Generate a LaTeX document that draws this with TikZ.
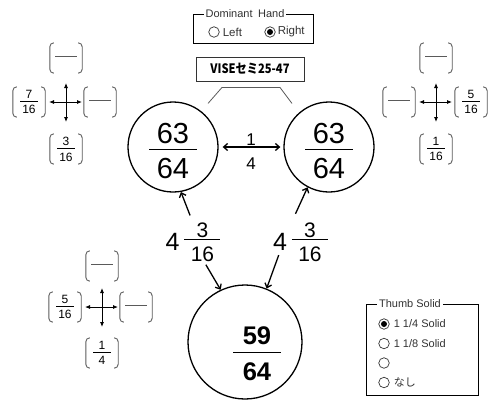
\documentclass[tikz,border=0pt]{standalone}
\usepackage{fontspec}
\setmainfont{Liberation Sans}
\newfontfamily\jpfont{Noto Sans CJK JP}
\usepackage{graphicx}
\usetikzlibrary{arrows.meta,positioning,calc}
\definecolor{brkgray}{HTML}{5A5A5A}
\definecolor{boxgray}{HTML}{333333}
\newcommand{\bigfrac}[4]{\shortstack{#1\\[#3]\rule{48pt}{.9pt}\\[#4]#2}}
\newcommand{\brkfrac}[2]{\shortstack{#1\\\rule{18pt}{.8pt}\\[.5pt]#2}}
\newcommand{\brkdash}{\textcolor{brkgray}{\rule[3.5pt]{22pt}{1pt}}}

\begin{document}
\begin{tikzpicture}[x=1pt, y=-1pt, >={Straight Barb[length=4pt,width=7pt]},
  circ/.style={circle, draw, line width=1.3pt, inner sep=0pt},
  bignum/.style={inner sep=0pt, font=\fontsize{29}{34}\selectfont},
  mixnum/.style={inner sep=0pt, font=\fontsize{25}{30}\selectfont},
  brk/.style={minimum width=32pt, minimum height=30pt, inner sep=0pt, font=\fontsize{12}{14}\selectfont},
  brkline/.style={brkgray, line width=.9pt, rounded corners=4pt},
  arr/.style={->, line width=1.3pt},
  xarr/.style={-{Latex[length=5pt,width=4pt]}, line width=.8pt},
  fieldset/.style={draw, line width=.9pt, inner sep=0pt},
  legend/.style={fill=white, inner sep=2pt, text=boxgray, font=\fontsize{11}{13}\selectfont},
  radio/.style={circle, draw=boxgray, line width=.7pt, minimum size=10.5pt, inner sep=0pt},
  radioon/.style={radio, path picture={\fill[black] (path picture bounding box.center) circle (3pt);}},
  opt/.style={inner sep=1pt, text=boxgray, font=\fontsize{11}{13}\selectfont}
]
  \useasboundingbox (0,0) rectangle (498,408);

  \node[circ, minimum size=90pt] (tl) at (173,147) {};
  \node[circ, minimum size=90pt] (tr) at (329,147) {};
  \node[circ, minimum size=114pt] (bot) at (245,342) {};
  \node[bignum] (tlfr) at (173,151) {\bigfrac{63}{64}{1.8pt}{5.6pt}};
  \node[bignum] (trfr) at (329,151) {\bigfrac{63}{64}{1.8pt}{5.6pt}};
  \node[bignum, font=\fontsize{25.5}{30}\selectfont\bfseries] (botfr) at (257,354) {\bigfrac{59}{64}{3.6pt}{7.6pt}};

  \draw[arr, <->, shorten <=4pt, shorten >=3pt] (tl) -- (tr)
    node[midway, above=1pt, inner sep=0pt, font=\fontsize{17}{20}\selectfont] (one) {1}
    node[midway, below=10pt, inner sep=0pt, font=\fontsize{17}{20}\selectfont] (four) {4};

  \node[mixnum] (mixL) at (193,242.5) {4\hspace{5pt}\raisebox{-11pt}{\fontsize{21}{25}\selectfont\shortstack{3\\[-2.4pt]\rule{36pt}{.9pt}\\[4.6pt]16}}};
  \node[mixnum] (mixR) at (300.5,242.5) {4\hspace{5pt}\raisebox{-11pt}{\fontsize{21}{25}\selectfont\shortstack{3\\[-2.4pt]\rule{36pt}{.9pt}\\[4.6pt]16}}};
  \draw[arr, shorten <=8pt] (mixL.north) -- (tl.-80);
  \draw[arr, shorten <=10pt] (mixR.115) -- (tr.-118);
  \draw[arr, shorten <=3pt] (mixL.-60) -- (bot.115);
  \draw[arr] ([yshift=7pt]mixR.-138) -- (bot.68);

  \node[draw=boxgray, line width=.9pt, minimum width=108pt, minimum height=24pt, inner sep=0pt] (vise) at (250,69)
    {\scalebox{0.86}[1]{\jpfont\bfseries\fontsize{13}{15}\selectfont VISEセミ25-47}};
  \draw[brkline, rounded corners=0pt, line width=.8pt] ($(vise.south)+(-42,22)$) -- ++(14,-16) -- ++(58,0) -- ++(12,16);

  \foreach \xc/\cx/\cy in {cl/66/102, cr/436/102, cb/102/307} {
    \coordinate (\xc) at (\cx,\cy);
    \coordinate (\xc-n) at (\cx,\cy-19);
    \coordinate (\xc-s) at (\cx,\cy+20);
    \coordinate (\xc-w) at (\cx-17,\cy);
    \coordinate (\xc-e) at (\cx+16,\cy);
    \foreach \d in {n,s,w,e}
      \draw[xarr] (\xc) -- (\xc-\d);
  }

  \node[brk] (clN) at (66,58) {\brkdash};
  \node[brk] (clW) at (29,102) {\brkfrac{7}{16}};
  \node[brk] (clE) at (100,102) {\brkdash};
  \node[brk] (clS) at (66,149) {\brkfrac{3}{16}};
  \node[brk] (crN) at (436,58) {\brkdash};
  \node[brk] (crW) at (399,102) {\brkdash};
  \node[brk] (crE) at (471,102) {\brkfrac{5}{16}};
  \node[brk] (crS) at (436,149) {\brkfrac{1}{16}};
  \node[brk] (cbN) at (102,266) {\brkdash};
  \node[brk] (cbW) at (65,307) {\brkfrac{5}{16}};
  \node[brk] (cbE) at (136,307) {\brkdash};
  \node[brk] (cbS) at (102,353) {\brkfrac{1}{4}};
  \foreach \b in {clN,clW,clE,clS,crN,crW,crE,crS,cbN,cbW,cbE,cbS} {
    \draw[brkline] ([xshift=4pt]\b.north west) -- (\b.north west) -- (\b.south west) -- ([xshift=4pt]\b.south west);
    \draw[brkline] ([xshift=-4pt]\b.north east) -- (\b.north east) -- (\b.south east) -- ([xshift=-4pt]\b.south east);
  }

  \node[fieldset, minimum width=120pt, minimum height=29pt] (hand) at (253,28.5) {};
  \node[legend] (handt) at ([xshift=-8pt]hand.north) {Dominant\enspace Hand};
  \node[radio] (lft) at (214,32) {};
  \node[opt, right=2pt of lft, font=\fontsize{11.5}{13}\selectfont] (lftt) {Left};
  \node[radioon] (rgt) at (270,32) {};
  \node[opt, right=1pt of rgt, font=\fontsize{11.5}{13}\selectfont] (rgtt) {Right};

  \node[fieldset, minimum width=112pt, minimum height=91pt] (thumb) at (422,349.5) {};
  \node[legend] (thumbt) at ([xshift=-12pt]thumb.north) {Thumb Solid};
  \node[radioon] (th1) at (384,324) {};
  \node[opt, right=3pt of th1] (th1t) {1 1/4 Solid};
  \node[radio] (th2) at (384,343.5) {};
  \node[opt, right=3pt of th2] (th2t) {1 1/8 Solid};
  \node[radio] (th3) at (384,363) {};
  \node[radio] (th4) at (384,382.5) {};
  \node[opt, right=3pt of th4, font=\jpfont\fontsize{11}{13}\selectfont] (th4t) {なし};
\end{tikzpicture}
\end{document}
